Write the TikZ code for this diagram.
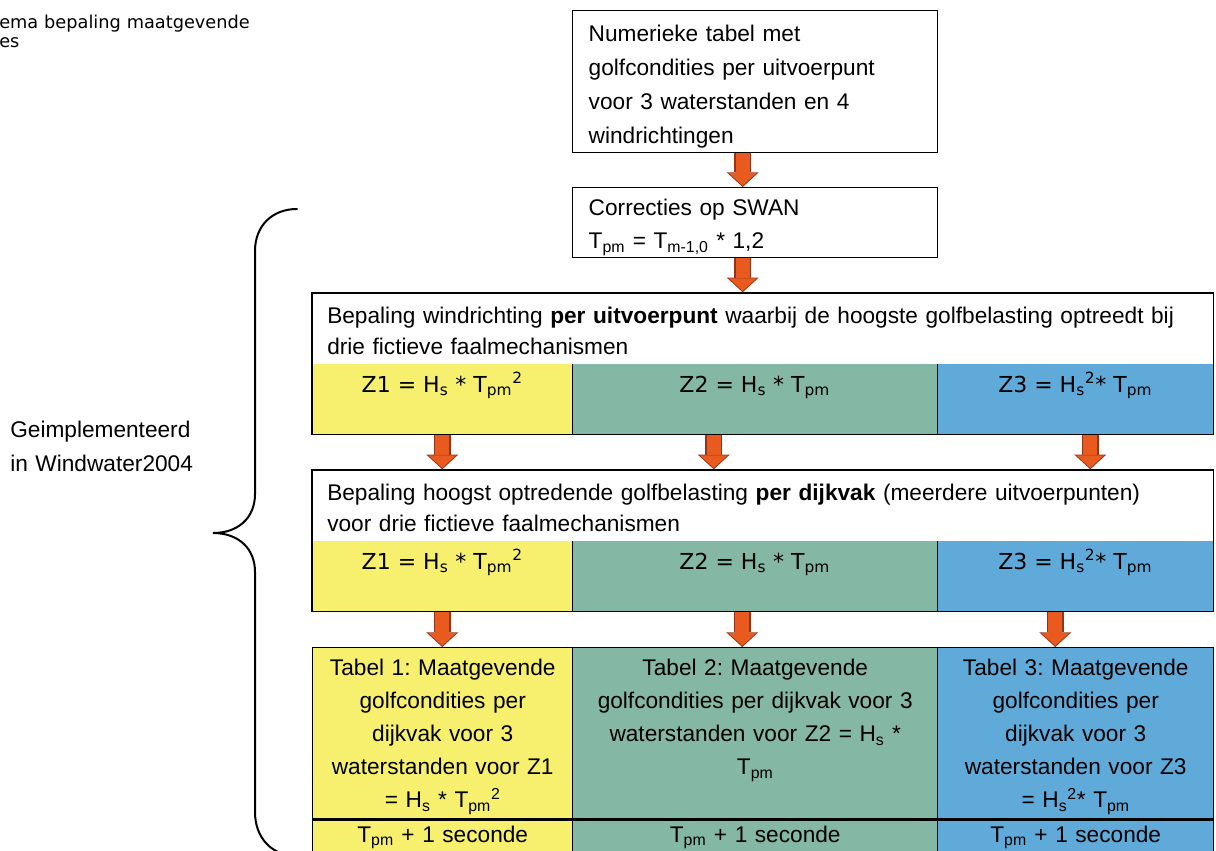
\documentclass[tikz,border=0pt]{standalone}
\usepackage{fontspec}
\setmainfont{Liberation Sans}
\newfontfamily\zfont{DejaVu Sans}
\usetikzlibrary{arrows.meta,fit}
\definecolor{celyellow}{HTML}{F6F06E}
\definecolor{celteal}{HTML}{84B8A4}
\definecolor{celblue}{HTML}{60AADA}
\definecolor{arrowfill}{HTML}{E85A1E}
\definecolor{arrowedge}{HTML}{96321A}
\frenchspacing

\begin{document}
\begin{tikzpicture}[x=0.75pt,y=-0.75pt]
\tikzset{
  flowbox/.style={draw,line width=1.1pt,fill=white,anchor=north west,align=left,inner xsep=12pt,inner ysep=0pt,text width=249.75pt},
  header/.style={fill=white,anchor=north west,align=left,inner xsep=11.25pt,inner ysep=0pt,text width=653.25pt,text height=22.5pt,text depth=30.75pt,font=\fontsize{17}{23.25}\selectfont},
  zcell/.style={anchor=north west,inner sep=0pt,text height=21pt,text depth=31.5pt,font=\zfont\fontsize{16.5}{19}\selectfont},
  frame/.style={draw,line width=1.1pt,inner sep=0pt},
  sepline/.style={line width=1.1pt},
  tabcell/.style={draw,line width=1.1pt,anchor=north west,align=center,inner xsep=6pt,inner ysep=0pt,text height=21pt,text depth=107.25pt,font=\fontsize{17}{24.75}\selectfont},
  seccell/.style={draw,line width=1.1pt,anchor=north west,align=center,inner xsep=6pt,inner ysep=0pt,text height=16.5pt,text depth=44pt,font=\fontsize{17}{20}\selectfont},
  fatarrow/.style={draw=arrowfill,line width=10.5pt,-{Triangle[width=21pt,length=9.5pt,line width=0pt]},shorten >=1pt,
    preaction={draw=arrowedge,line width=12.5pt,-{Triangle[width=24pt,length=11pt,line width=0pt]},shorten >=0pt}},
  bracepen/.style={line width=1.5pt,line cap=round}
}
\useasboundingbox (0,0) rectangle (1216,850);
\clip (0,0) rectangle (1216,850);

% caption and side label
\node[anchor=north west,inner sep=0pt,align=left,text width=200pt,text height=10.5pt,font=\zfont\fontsize{13.3}{14.25}\selectfont] (caption) at (-1,14) {ema bepaling maatgevende\\es};
\node[anchor=north west,inner sep=0pt,align=left,text width=160pt,text height=17.25pt,font=\fontsize{17}{25.5}\selectfont] (impl) at (10,414) {Geimplementeerd\\in Windwater2004};

% top boxes
\node[flowbox,text height=23.25pt,text depth=83.25pt,font=\fontsize{17}{25.5}\selectfont] (tbl) at (572,10) {Numerieke tabel met\\golfcondities per uitvoerpunt\\voor 3 waterstanden en 4\\windrichtingen};
\node[flowbox,text height=21pt,text depth=31.5pt,font=\fontsize{17}{24.75}\selectfont] (swan) at (572,187) {Correcties op SWAN\\T\textsubscript{pm} = T\textsubscript{m-1,0} * 1,2};

% windrichting per uitvoerpunt
\node[header] (hdrWind) at (312,293) {Bepaling windrichting \textbf{per uitvoerpunt} waarbij de hoogste golfbelasting optreedt bij\\drie fictieve faalmechanismen};
\node[zcell,fill=celyellow,minimum width=195pt] (zw1) at (312,364) {Z1 = H\textsubscript{s} * T\textsubscript{pm}\textsuperscript{2}};
\node[zcell,fill=celteal,minimum width=273.75pt] (zw2) at (572,364) {Z2 = H\textsubscript{s} * T\textsubscript{pm}};
\node[zcell,fill=celblue,minimum width=207pt] (zw3) at (937,364) {Z3 = H\textsubscript{s}\textsuperscript{2}* T\textsubscript{pm}};
\node[frame,fit=(hdrWind)(zw1)(zw3)] (stepWind) {};
\draw[sepline] (zw1.north east) -- (zw1.south east);
\draw[sepline] (zw2.north east) -- (zw2.south east);

% golfbelasting per dijkvak
\node[header] (hdrDijk) at (312,470) {Bepaling hoogst optredende golfbelasting \textbf{per dijkvak} (meerdere uitvoerpunten)\\voor drie fictieve faalmechanismen};
\node[zcell,fill=celyellow,minimum width=195pt] (zd1) at (312,541) {Z1 = H\textsubscript{s} * T\textsubscript{pm}\textsuperscript{2}};
\node[zcell,fill=celteal,minimum width=273.75pt] (zd2) at (572,541) {Z2 = H\textsubscript{s} * T\textsubscript{pm}};
\node[zcell,fill=celblue,minimum width=207pt] (zd3) at (937,541) {Z3 = H\textsubscript{s}\textsuperscript{2}* T\textsubscript{pm}};
\node[frame,fit=(hdrDijk)(zd1)(zd3)] (stepDijk) {};
\draw[sepline] (zd1.north east) -- (zd1.south east);
\draw[sepline] (zd2.north east) -- (zd2.south east);

% result tables
\node[tabcell,fill=celyellow,text width=183pt] (tab1) at (312,647) {Tabel 1: Maatgevende\\golfcondities per\\dijkvak voor 3\\waterstanden voor Z1\\= H\textsubscript{s} * T\textsubscript{pm}\textsuperscript{2}};
\node[tabcell,fill=celteal,text width=261.75pt] (tab2) at (572,647) {Tabel 2: Maatgevende\\golfcondities per dijkvak voor 3\\waterstanden voor Z2 = H\textsubscript{s} *\\T\textsubscript{pm}};
\node[tabcell,fill=celblue,text width=195pt] (tab3) at (937,647) {Tabel 3: Maatgevende\\golfcondities per\\dijkvak voor 3\\waterstanden voor Z3\\= H\textsubscript{s}\textsuperscript{2}* T\textsubscript{pm}};
\node[seccell,fill=celyellow,text width=183pt] (sec1) at (tab1.south west) {T\textsubscript{pm} + 1 seconde};
\node[seccell,fill=celteal,text width=261.75pt] (sec2) at (tab2.south west) {T\textsubscript{pm} + 1 seconde};
\node[seccell,fill=celblue,text width=195pt] (sec3) at (tab3.south west) {T\textsubscript{pm} + 1 seconde};

% arrows
\draw[fatarrow] ([xshift=-9.4pt]tbl.south) -- ([xshift=-9.4pt]swan.north);
\draw[fatarrow] ([xshift=-9.4pt]swan.south) -- ([xshift=-9.4pt]swan.south |- stepWind.north);
\draw[fatarrow] (zw1.south) -- (zw1.south |- stepDijk.north);
\draw[fatarrow] ([xshift=-30.75pt]zw2.south) -- ([xshift=-30.75pt]zw2.south |- stepDijk.north);
\draw[fatarrow] ([xshift=11.25pt]zw3.south) -- ([xshift=11.25pt]zw3.south |- stepDijk.north);
\draw[fatarrow] (zd1.south) -- (zd1.south |- tab1.north);
\draw[fatarrow] ([xshift=-9.4pt]zd2.south) -- ([xshift=-9.4pt]zd2.south |- tab2.north);
\draw[fatarrow] ([xshift=-15pt]zd3.south) -- ([xshift=-15pt]zd3.south |- tab3.north);

% brace
\draw[bracepen] (297,209) .. controls (272,209) and (255,226) .. (255,251) -- (255,494)
  .. controls (255,518) and (238,533) .. (213,533)
  .. controls (238,533) and (255,548) .. (255,572) -- (255,812)
  .. controls (255,838) and (272,856) .. (297,856);
\end{tikzpicture}
\end{document}
